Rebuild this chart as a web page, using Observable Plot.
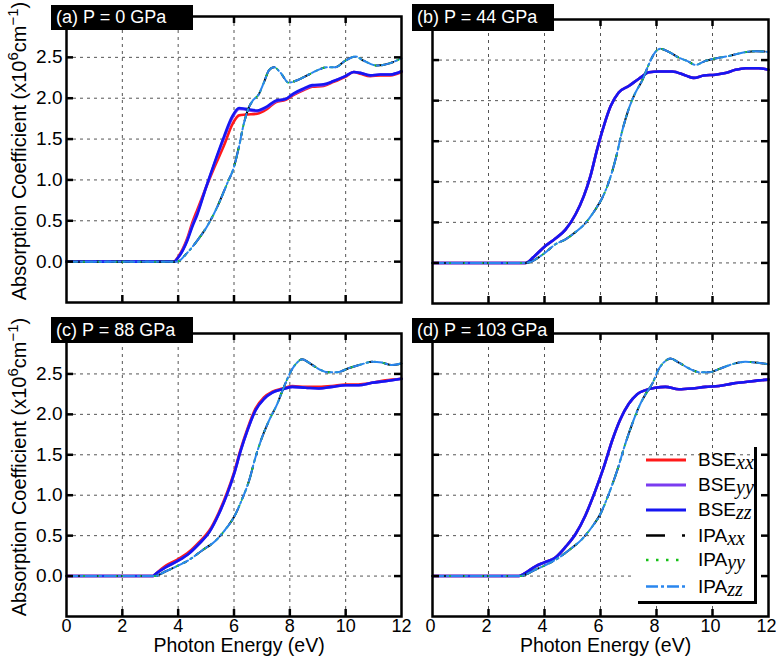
<!DOCTYPE html>
<html><head><meta charset="utf-8">
<script src="https://cdn.jsdelivr.net/npm/d3@7"></script>
<script src="https://cdn.jsdelivr.net/npm/@observablehq/plot@0.6"></script>
<style>
body{margin:0;background:#fff;}
#wrap{position:relative;width:776px;height:658px;overflow:hidden;font-family:"Liberation Sans",Arial,sans-serif;}
.pl{position:absolute;}
.tag{position:absolute;background:#000;color:#fff;font-size:18px;width:142px;padding-left:5px;box-sizing:border-box;white-space:nowrap;}
.ylab{position:absolute;transform:translate(-50%,-50%) rotate(-90deg);font-size:20px;white-space:nowrap;color:#000;}
.ylab sup{font-size:15px;vertical-align:8px;line-height:0;}
</style></head><body><div id="wrap"></div>
<script>
// ---------- data ----------
const xTicks = [0, 2, 4, 6, 8, 10, 12];
const yTicks = [0, 0.5, 1, 1.5, 2, 2.5];
const gridX = [2, 4, 6, 8, 10];
const seriesNames = ["BSExx", "BSEyy", "BSEzz", "IPAxx", "IPAyy", "IPAzz"];
const panelLabels = ["(a) P = 0 GPa", "(b) P = 44 GPa", "(c) P = 88 GPa", "(d) P = 103 GPa"];
const xLabel = ["Photon Energy (eV)"];

// (a) P = 0 GPa
const aBseE  = [0, 3.85, 4.0, 4.33, 4.5, 4.69, 5.0, 5.29, 5.64, 5.94, 6.18, 6.42, 6.83, 7.19, 7.49, 7.85, 8.14, 8.5, 8.8, 9.21, 9.57, 9.99, 10.29, 10.52, 10.88, 11.24, 11.6, 12];
const aBseXx = [0, 0, 0.06, 0.29, 0.47, 0.64, 0.91, 1.15, 1.42, 1.68, 1.79, 1.80, 1.81, 1.87, 1.95, 1.98, 2.04, 2.10, 2.14, 2.15, 2.20, 2.26, 2.32, 2.30, 2.27, 2.28, 2.28, 2.32];
const aBseYy = [0, 0, 0.05, 0.27, 0.44, 0.60, 0.91, 1.19, 1.51, 1.76, 1.87, 1.86, 1.84, 1.89, 1.96, 1.99, 2.05, 2.11, 2.15, 2.16, 2.21, 2.27, 2.32, 2.31, 2.28, 2.29, 2.29, 2.33];
const aBseZz = [0, 0, 0.05, 0.26, 0.42, 0.58, 0.91, 1.20, 1.53, 1.78, 1.88, 1.87, 1.85, 1.90, 1.97, 1.99, 2.06, 2.12, 2.16, 2.17, 2.21, 2.27, 2.32, 2.31, 2.28, 2.29, 2.29, 2.33];
const aIpaE  = [0, 3.95, 4.33, 4.69, 5.05, 5.4, 5.76, 6.0, 6.18, 6.36, 6.5, 6.65, 6.89, 7.07, 7.25, 7.43, 7.67, 7.96, 8.26, 8.62, 8.98, 9.33, 9.63, 9.99, 10.35, 10.64, 11.12, 11.6, 12];
const aIpa   = [0, 0, 0.11, 0.26, 0.44, 0.67, 0.96, 1.16, 1.41, 1.70, 1.86, 1.96, 2.05, 2.19, 2.34, 2.38, 2.31, 2.19, 2.22, 2.28, 2.34, 2.38, 2.38, 2.46, 2.51, 2.46, 2.40, 2.43, 2.49];

// (b) P = 44 GPa
const bBseE  = [0, 3.32, 3.6, 4.0, 4.39, 4.75, 5.11, 5.4, 5.64, 5.88, 6.12, 6.36, 6.65, 7.01, 7.37, 7.73, 8.08, 8.56, 9.04, 9.33, 9.69, 10.1, 10.46, 10.82, 11.18, 11.65, 12];
const bBse   = [0, 0, 0.07, 0.20, 0.30, 0.41, 0.60, 0.82, 1.07, 1.40, 1.69, 1.93, 2.10, 2.18, 2.27, 2.35, 2.36, 2.36, 2.31, 2.28, 2.31, 2.32, 2.34, 2.38, 2.40, 2.40, 2.38];
const bIpaE  = [0, 3.32, 4.0, 4.39, 4.75, 5.11, 5.46, 5.82, 6.06, 6.3, 6.54, 6.77, 7.01, 7.25, 7.49, 7.73, 7.9, 8.14, 8.44, 8.8, 9.15, 9.39, 9.75, 10.1, 10.58, 11.06, 11.54, 12];
const bIpa   = [0, 0, 0.12, 0.23, 0.29, 0.38, 0.49, 0.66, 0.80, 1.00, 1.28, 1.62, 1.90, 2.10, 2.25, 2.45, 2.57, 2.64, 2.60, 2.53, 2.48, 2.44, 2.49, 2.52, 2.55, 2.59, 2.61, 2.60];

// (c) P = 88 GPa
const cBseE  = [0, 3.1, 3.2, 3.56, 4.0, 4.39, 4.75, 5.11, 5.46, 5.76, 6.0, 6.24, 6.48, 6.77, 7.07, 7.37, 7.73, 8.08, 8.56, 9.04, 9.51, 9.99, 10.46, 10.94, 11.42, 12];
const cBseXx = [0, 0, 0.03, 0.13, 0.21, 0.30, 0.42, 0.56, 0.79, 1.04, 1.28, 1.57, 1.82, 2.07, 2.21, 2.28, 2.32, 2.35, 2.34, 2.34, 2.35, 2.37, 2.37, 2.39, 2.42, 2.44];
const cBseZz = [0, 0, 0.03, 0.11, 0.19, 0.28, 0.40, 0.54, 0.77, 1.02, 1.26, 1.55, 1.80, 2.05, 2.19, 2.27, 2.31, 2.34, 2.33, 2.32, 2.34, 2.36, 2.36, 2.39, 2.41, 2.44];
const cIpaE  = [0, 3.15, 3.56, 4.0, 4.39, 4.87, 5.35, 5.7, 6.0, 6.3, 6.54, 6.77, 7.01, 7.25, 7.55, 7.79, 8.02, 8.26, 8.44, 8.68, 9.04, 9.39, 9.69, 10.1, 10.58, 10.94, 11.3, 11.65, 12];
const cIpa   = [0, 0, 0.06, 0.13, 0.20, 0.32, 0.44, 0.58, 0.73, 0.96, 1.18, 1.47, 1.72, 1.92, 2.13, 2.34, 2.52, 2.64, 2.68, 2.64, 2.56, 2.52, 2.52, 2.57, 2.62, 2.65, 2.64, 2.61, 2.63];

// (d) P = 103 GPa
const dBseE  = [0, 3.09, 3.32, 3.68, 4.0, 4.39, 4.75, 5.11, 5.46, 5.82, 6.12, 6.42, 6.71, 7.01, 7.31, 7.61, 7.96, 8.32, 8.8, 9.27, 9.75, 10.23, 10.7, 11.18, 11.65, 12];
const dBse   = [0, 0, 0.04, 0.12, 0.17, 0.23, 0.36, 0.52, 0.75, 1.06, 1.35, 1.68, 1.94, 2.13, 2.25, 2.30, 2.33, 2.34, 2.31, 2.32, 2.34, 2.35, 2.38, 2.40, 2.42, 2.43];
const dIpaE  = [0, 3.12, 3.68, 4.0, 4.39, 4.87, 5.35, 5.7, 6.0, 6.3, 6.6, 6.89, 7.13, 7.37, 7.61, 7.85, 8.08, 8.32, 8.5, 8.8, 9.15, 9.57, 9.87, 10.23, 10.7, 11.18, 11.54, 12];
const dIpa   = [0, 0, 0.08, 0.13, 0.20, 0.32, 0.46, 0.61, 0.77, 1.02, 1.31, 1.64, 1.88, 2.09, 2.25, 2.38, 2.56, 2.66, 2.69, 2.64, 2.57, 2.52, 2.52, 2.56, 2.62, 2.65, 2.64, 2.62];

// ---------- styles ----------
const colors = ["#ff1a1a", "#7b3cf0", "#1616f2", "#000000", "#16c016", "#2a86ee"];
const dashes = [null, null, null, "18,12,3,12", "2,6", "11,3,2,3"];
const widths = [2.6, 2.6, 2.6, 2, 2, 2];

const panels = [
  {label: panelLabels[0], frame: [66, 401, 16, 302], left: true, bottom: false,
   series: [[aBseE, aBseXx], [aBseE, aBseYy], [aBseE, aBseZz], [aIpaE, aIpa], [aIpaE, aIpa], [aIpaE, aIpa]],
   tag: [51, 5, 25]},
  {label: panelLabels[1], frame: [432, 768, 19, 303], left: false, bottom: false,
   series: [[bBseE, bBse], [bBseE, bBse], [bBseE, bBse], [bIpaE, bIpa], [bIpaE, bIpa], [bIpaE, bIpa]],
   tag: [412, 4, 27]},
  {label: panelLabels[2], frame: [66, 401, 333, 616], left: true, bottom: true, tickDx: 0,
   series: [[cBseE, cBseXx], [cBseE, cBseZz], [cBseE, cBseZz], [cIpaE, cIpa], [cIpaE, cIpa], [cIpaE, cIpa]],
   tag: [51, 317, 26]},
  {label: panelLabels[3], frame: [432, 768, 333, 616], left: false, bottom: true, tickDx: -2,
   series: [[dBseE, dBse], [dBseE, dBse], [dBseE, dBse], [dIpaE, dIpa], [dIpaE, dIpa], [dIpaE, dIpa]],
   tag: [412, 318, 25]}
];

const wrap = document.getElementById("wrap");
const tickLen = 7;

for (const p of panels) {
  const [L, R, T, B] = p.frame;
  const mL = p.left ? 66 : 12, mR = 8, mT = 8, mB = p.bottom ? 46 : 8;
  const W = R - L, H = B - T;
  const data = [];
  p.series.forEach(([E, V], i) => E.forEach((e, j) => data.push({E: e, v: V[j], s: seriesNames[i]})));
  const marks = [
    Plot.ruleX(gridX, {x: d => d, stroke: "#555", strokeWidth: 1, strokeDasharray: "3,4"}),
    Plot.ruleY(yTicks, {y: d => d, stroke: "#555", strokeWidth: 1, strokeDasharray: "3,4"}),
    ...seriesNames.map((s, i) => Plot.line(data.filter(d => d.s === s), {
      x: "E", y: "v", stroke: colors[i], strokeWidth: widths[i],
      strokeDasharray: dashes[i], curve: "monotone-x"
    })),
    Plot.ruleX(gridX, {x: d => d, insetTop: H - tickLen, stroke: "#000", strokeWidth: 2.5}),
    Plot.ruleX(gridX, {x: d => d, insetBottom: H - tickLen, stroke: "#000", strokeWidth: 2.5}),
    Plot.ruleY(yTicks, {y: d => d, insetRight: W - tickLen, stroke: "#000", strokeWidth: 2.5}),
    Plot.ruleY(yTicks, {y: d => d, insetLeft: W - tickLen, stroke: "#000", strokeWidth: 2.5}),
    Plot.frame({stroke: "#000", strokeWidth: 2.5})
  ];
  if (p.left) marks.push(Plot.axisY(yTicks, {tickSize: 0, tickPadding: 4, fontSize: 19, tickFormat: d3.format(".1f"), label: null}));
  if (p.bottom) {
    marks.push(Plot.axisX(xTicks, {tickSize: 0, tickPadding: 3, fontSize: 18, dx: p.tickDx, label: null}));
    marks.push(Plot.text(xLabel, {text: d => d, frameAnchor: "bottom", lineAnchor: "top", dy: 22, dx: 5, fontSize: 19.5, fill: "#000"}));
  }
  const chart = Plot.plot({
    width: W + mL + mR, height: H + mT + mB,
    marginLeft: mL, marginRight: mR, marginTop: mT, marginBottom: mB,
    x: {domain: [0, 12], axis: null},
    y: {domain: [-0.5, 3.0], axis: null},
    style: {fontFamily: "'Liberation Sans', Arial, sans-serif", fontSize: "19px", color: "#000", background: "transparent", overflow: "visible"},
    marks
  });
  chart.classList.add("pl");
  chart.style.left = (L - mL) + "px";
  chart.style.top = (T - mT) + "px";
  wrap.appendChild(chart);

  const tag = document.createElement("div");
  tag.className = "tag";
  tag.textContent = p.label;
  tag.style.left = p.tag[0] + "px";
  tag.style.top = p.tag[1] + "px";
  tag.style.height = p.tag[2] + "px";
  tag.style.lineHeight = p.tag[2] + "px";
  wrap.appendChild(tag);

  if (p.left) {
    const yl = document.createElement("div");
    yl.className = "ylab";
    yl.innerHTML = "Absorption Coefficient (x10<sup>6</sup>cm<sup>\u22121</sup>)";
    yl.style.left = "19px";
    yl.style.top = ((T + B) / 2 - 8) + "px";
    wrap.appendChild(yl);
  }
}

// ---------- legend (panel d) ----------
const lg = d3.create("svg").attr("width", 132).attr("height", 165)
  .style("position", "absolute").style("left", "630px").style("top", "444px").style("overflow", "visible");
lg.append("rect").attr("x", 3).attr("y", 13).attr("width", 122).attr("height", 146).attr("fill", "#fff");
lg.append("line").attr("x1", 125.5).attr("x2", 125.5).attr("y1", 3).attr("y2", 160).attr("stroke", "#000").attr("stroke-width", 3);
lg.append("line").attr("x1", 8).attr("x2", 127).attr("y1", 158.5).attr("y2", 158.5).attr("stroke", "#000").attr("stroke-width", 3);
const rowsY = [16, 41, 66, 91.5, 116, 142.5];
const subs = ["xx", "yy", "zz", "xx", "yy", "zz"];
const legendDash = [null, null, null, "19,17,3,20", "2.5,7.5", "12,3,3,3"];
seriesNames.forEach((s, i) => {
  const y = rowsY[i];
  lg.append("line").attr("x1", 16).attr("x2", 56).attr("y1", y).attr("y2", y)
    .attr("stroke", colors[i]).attr("stroke-width", widths[i] + 0.4)
    .attr("stroke-dasharray", legendDash[i]);
  const t = lg.append("text").attr("x", 68).attr("y", y + 6)
    .attr("font-family", "'Liberation Sans', Arial, sans-serif").attr("font-size", 19).attr("fill", "#000");
  t.append("tspan").text(s.slice(0, 3));
  t.append("tspan").attr("dy", 3).attr("font-family", "'Liberation Serif', 'Times New Roman', serif")
    .attr("font-style", "italic").attr("font-size", 20).text(subs[i]);
});
wrap.appendChild(lg.node());
</script></body></html>
